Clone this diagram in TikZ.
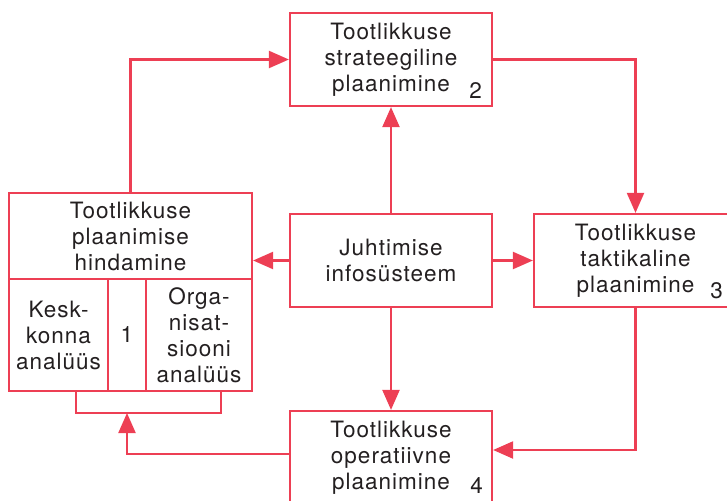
\documentclass[tikz,border=0pt]{standalone}
\usepackage{fontspec}
\setmainfont[LetterSpace=4.5]{TeX Gyre Heros}
\usetikzlibrary{arrows.meta}
\definecolor{lred}{HTML}{ED3F54}
\definecolor{txt}{HTML}{231F20}
\begin{document}
\begin{tikzpicture}[x=1pt,y=-1pt,
  lbl/.style={text=txt, font=\fontsize{22.5}{26}\selectfont},
  box/.style={lbl, draw=lred, line width=2.2pt, inner sep=0pt, align=center},
  conn/.style={draw=lred, line width=2.2pt},
  arr/.style={conn, -{Triangle[length=20pt,width=17pt]}},
  num/.style={lbl, inner sep=0pt, anchor=base east}]
\useasboundingbox (0,0) rectangle (727,500);

\node[box, minimum width=202pt, minimum height=93pt] (b2) at (391,59.5) {Tootlikkuse\\strateegiline\\plaanimine};
\node[box, minimum width=202pt, minimum height=93pt] (bc) at (391,260.5) {Juhtimise\\infosüsteem};
\node[box, minimum width=203pt, minimum height=93pt] (b3) at (635.5,260.5) {Tootlikkuse\\taktikaline\\plaanimine};
\node[box, minimum width=202pt, minimum height=94pt] (b4) at (391,458) {Tootlikkuse\\operatiivne\\plaanimine};

\node[box, minimum width=243pt, minimum height=86pt] (b1h) at (130.5,236) {Tootlikkuse\\plaanimise\\hindamine};
\node[box, minimum width=99pt, minimum height=112pt] (ca) at (58.5,335) {Kesk-\\konna\\analüüs};
\node[box, minimum width=38pt, minimum height=112pt] (cb) at (127,335) {1};
\node[box, minimum width=106pt, minimum height=112pt] (cc) at (199,335) {Orga-\\nisat-\\siooni\\analüüs};

\node[num] (n2) at (482,99) {2};
\node[num] (n3) at (723,298) {3};
\node[num] (n4) at (483,493) {4};

\coordinate (bl) at (76,413);
\coordinate (br) at (221,413);

\draw[arr] (b1h.north) |- (b2.west);
\draw[arr] (b2.east) -| (b3.north);
\draw[arr] (bc.north) -- (b2.south);
\draw[arr] (bc.south) -- (b4.north);
\draw[arr] (bc.west) -- (bc.west -| b1h.east);
\draw[arr] (bc.east) -- (b3.west);
\draw[arr] (b3.south) |- ([yshift=8pt]b4.east);
\draw[conn] (ca.south -| bl) -- (bl) -- (br) -- (cc.south -| br);
\draw[arr] ([yshift=4pt]b4.west) -| (cb.south |- bl);
\end{tikzpicture}
\end{document}
